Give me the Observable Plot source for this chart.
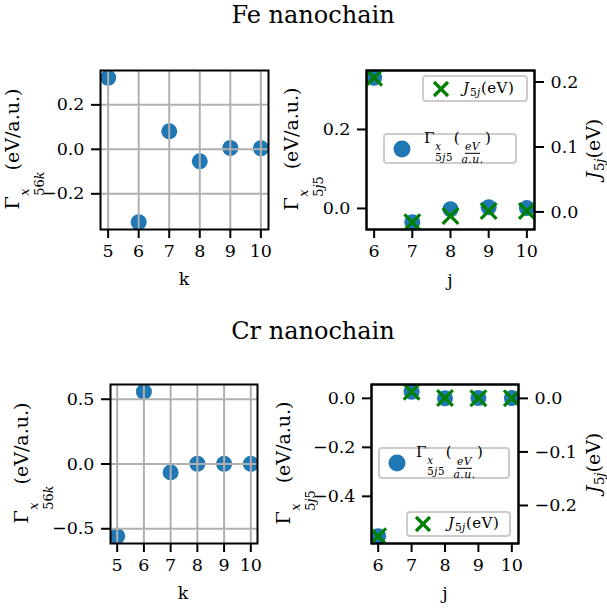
<!DOCTYPE html>
<html><head><meta charset="utf-8">
<script src="https://cdn.jsdelivr.net/npm/d3@7"></script>
<script src="https://cdn.jsdelivr.net/npm/@observablehq/plot@0.6"></script>
<style>
body{margin:0;background:#fff;}
#fig{position:relative;width:607px;height:610px;font-family:"DejaVu Serif",serif;color:#000;overflow:hidden;background:#fff}
#fig svg.pl{position:absolute;left:0;top:0;overflow:visible}
.t{position:absolute;white-space:nowrap;line-height:1}
.c{transform:translate(-50%,-50%)}
.r{transform:translate(-50%,-50%) rotate(-90deg)}
.ss{display:inline-flex;flex-direction:column;font-size:0.68em;line-height:1.12;vertical-align:-0.78em;margin:0 0.08em 0 0.04em}
.sb{font-size:0.7em;vertical-align:-0.32em;margin-left:0.04em}
.fr{display:inline-flex;flex-direction:column;align-items:center;font-size:0.72em;line-height:1.15;vertical-align:-0.7em;font-style:italic;margin:0 0.12em}
.fr span:first-child{border-bottom:1px solid #000}
.leg{position:absolute;box-sizing:border-box;border:2px solid #ccc;border-radius:4px;background:rgba(255,255,255,0.85);font-size:15px;letter-spacing:0.5px}
.leg svg{position:absolute}
.leg .lt{position:absolute;white-space:nowrap;line-height:1;transform:translateY(-50%)}
.leg .ss{line-height:1.05;vertical-align:-0.72em}
i{font-style:italic}
</style>
</head><body>
<div id="fig"></div>
<script>
// ---------- data ----------
const feK = [5, 6, 7, 8, 9, 10];
const feGamma56k = [0.322, -0.328, 0.081, -0.054, 0.006, 0.005];
const feJ = [6, 7, 8, 9, 10];
const feGamma5j5 = [0.331, -0.035, -0.002, 0.003, 0.001];
const feJ5j = [0.2066, -0.0159, -0.0062, 0.0015, 0.0015];

const crK = [5, 6, 7, 8, 9, 10];
const crGamma56k = [-0.558, 0.558, -0.065, 0.002, 0.001, 0.001];
const crJ = [6, 7, 8, 9, 10];
const crGamma5j5 = [-0.563, 0.027, 0.0, 0.001, 0.001];
const crJ5j = [-0.2575, 0.0124, 0.0005, 0.0002, 0.0002];

const kTicks = [5, 6, 7, 8, 9, 10];
const jTicks = [6, 7, 8, 9, 10];
const feGamma56kTicks = [-0.2, 0.0, 0.2];
const feGamma5j5Ticks = [0.0, 0.2];
const feJ5jTicks = [0.0, 0.1, 0.2];
const crGamma56kTicks = [-0.5, 0.0, 0.5];
const crGamma5j5Ticks = [-0.4, -0.2, 0.0];
const crJ5jTicks = [-0.2, -0.1, 0.0];

// ---------- helpers ----------
const W = 607, H = 610;
const BLUE = "#1f77b4", GREEN = "green", GRID = "#b0b0b0";
const FS = 17.5;
function pad(vals) { const [a, b] = d3.extent(vals); const m = (b - a) * 0.05; return [a - m, b + m]; }
const rows = (xs, ys) => xs.map((x, i) => ({x, y: ys[i]}));

function panel({frame, xs, ys, xTicks, yTicks, grid, kind, yAnchor = "left", xAxis = true}) {
  const [L, R, T, B] = frame;
  const data = rows(xs, ys);
  const marks = [];
  if (kind === "dot") marks.push(Plot.dot(data, {x: "x", y: "y", r: 8, fill: BLUE, clip: true}));
  else marks.push(Plot.dot(data, {x: "x", y: "y", r: 7.2, symbol: "times", stroke: GREEN, strokeWidth: 3.2, clip: true}));
  if (grid) {
    marks.push(Plot.gridX(xTicks, {stroke: GRID, strokeOpacity: 1, strokeWidth: 2}));
    marks.push(Plot.gridY(yTicks, {stroke: GRID, strokeOpacity: 1, strokeWidth: 2}));
  }
  if (xAxis) marks.push(Plot.axisX(xTicks, {tickFormat: d3.format("d"), tickSize: 9, tickPadding: 6, strokeWidth: 2, label: null, fontSize: FS}));
  marks.push(Plot.axisY(yTicks, {anchor: yAnchor, tickFormat: d3.format(".1f"), tickSize: 9, tickPadding: 7, strokeWidth: 2, label: null, fontSize: FS}));
  marks.push(Plot.frame({stroke: "black", strokeWidth: 2}));
  const svg = Plot.plot({
    width: W, height: H,
    marginLeft: L, marginRight: W - R, marginTop: T, marginBottom: H - B,
    style: {background: "transparent", fontFamily: "DejaVu Serif", fontSize: FS + "px", color: "#000", overflow: "visible"},
    x: {domain: pad(xTicks), axis: xAxis ? undefined : null},
    y: {domain: pad(ys)},
    marks
  });
  svg.classList.add("pl");
  return svg;
}

const fig = document.getElementById("fig");
const FE_L = [100, 268, 70, 229], FE_R = [366, 534, 70, 229];
const CR_L = [110, 257, 384, 543], CR_R = [371, 518, 384, 543];

fig.append(panel({frame: FE_L, xs: feK, ys: feGamma56k, xTicks: kTicks, yTicks: feGamma56kTicks, grid: true, kind: "dot"}));
fig.append(panel({frame: FE_R, xs: feJ, ys: feGamma5j5, xTicks: jTicks, yTicks: feGamma5j5Ticks, grid: false, kind: "dot"}));
fig.append(panel({frame: CR_L, xs: crK, ys: crGamma56k, xTicks: kTicks, yTicks: crGamma56kTicks, grid: true, kind: "dot"}));
fig.append(panel({frame: CR_R, xs: crJ, ys: crGamma5j5, xTicks: jTicks, yTicks: crGamma5j5Ticks, grid: false, kind: "dot"}));

const DOT_SVG = `<svg width="20" height="20" style="left:-10px;top:-10px"><circle cx="10" cy="10" r="8.5" fill="${BLUE}"/></svg>`;
const X_SVG = `<svg width="20" height="20" style="left:-10px;top:-10px"><path d="M3,3L17,17M17,3L3,17" stroke="green" stroke-width="3.2"/></svg>`;
const GAMMA_LEG = `Γ<span class="ss"><i>x</i><span>5<i>j</i>5</span></span>(<span class="fr"><span>eV</span><span>a.u.</span></span>)`;
const J_LEG = `<i>J</i><span class="sb">5<i>j</i></span>(eV)`;
function legend(box, markerSvg, mx, text, tx) {
  const [x0, y0, x1, y1] = box;
  const d = document.createElement("div");
  d.className = "leg";
  Object.assign(d.style, {left: x0 + "px", top: y0 + "px", width: (x1 - x0) + "px", height: (y1 - y0) + "px"});
  const cy = (y1 - y0) / 2 - 2;
  d.innerHTML = `<div style="position:absolute;left:${mx - x0 - 2}px;top:${cy}px">${markerSvg}</div><div class="lt" style="left:${tx - x0 - 2}px;top:${cy}px">${text}</div>`;
  fig.append(d);
}
legend([383, 133, 517, 164], DOT_SVG, 402, GAMMA_LEG, 424);
legend([378, 447, 510, 479], DOT_SVG, 397, GAMMA_LEG, 416);

fig.append(panel({frame: FE_R, xs: feJ, ys: feJ5j, xTicks: jTicks, yTicks: feJ5jTicks, grid: false, kind: "x", yAnchor: "right", xAxis: false}));
fig.append(panel({frame: CR_R, xs: crJ, ys: crJ5j, xTicks: jTicks, yTicks: crJ5jTicks, grid: false, kind: "x", yAnchor: "right", xAxis: false}));

legend([422, 75, 528, 102], X_SVG, 441, J_LEG, 463);
legend([406, 511, 511, 537], X_SVG, 423, J_LEG, 448);

// ---------- text ----------
function txt(html, x, y, cls, size) {
  const d = document.createElement("div");
  d.className = "t " + cls;
  d.style.left = x + "px"; d.style.top = y + "px"; d.style.fontSize = size + "px";
  d.innerHTML = html;
  fig.append(d);
}
const G56K = `Γ<span class="ss"><i>x</i><span>56<i>k</i></span></span>(eV/a.u.)`;
const G5J5 = `Γ<span class="ss"><i>x</i><span>5<i>j</i>5</span></span> (eV/a.u.)`;
const J5J = `<i>J</i><span class="sb">5<i>j</i></span>(eV)`;

txt("Fe nanochain", 313, 15, "c", 24);
txt("Cr nanochain", 313, 331, "c", 24);
txt(G56K, 25, 149, "r", 19);
txt(G5J5, 304, 149, "r", 19);
txt(J5J, 595, 149, "r", 19);
txt(G56K, 34, 463, "r", 19);
txt(G5J5, 296, 463, "r", 19);
txt(J5J, 595, 463, "r", 19);
txt("k", 184, 280, "c", 17.5);
txt("j", 450, 281, "c", 17.5);
txt("k", 183, 594, "c", 17.5);
txt("j", 445, 594, "c", 17.5);
</script>
</body></html>
